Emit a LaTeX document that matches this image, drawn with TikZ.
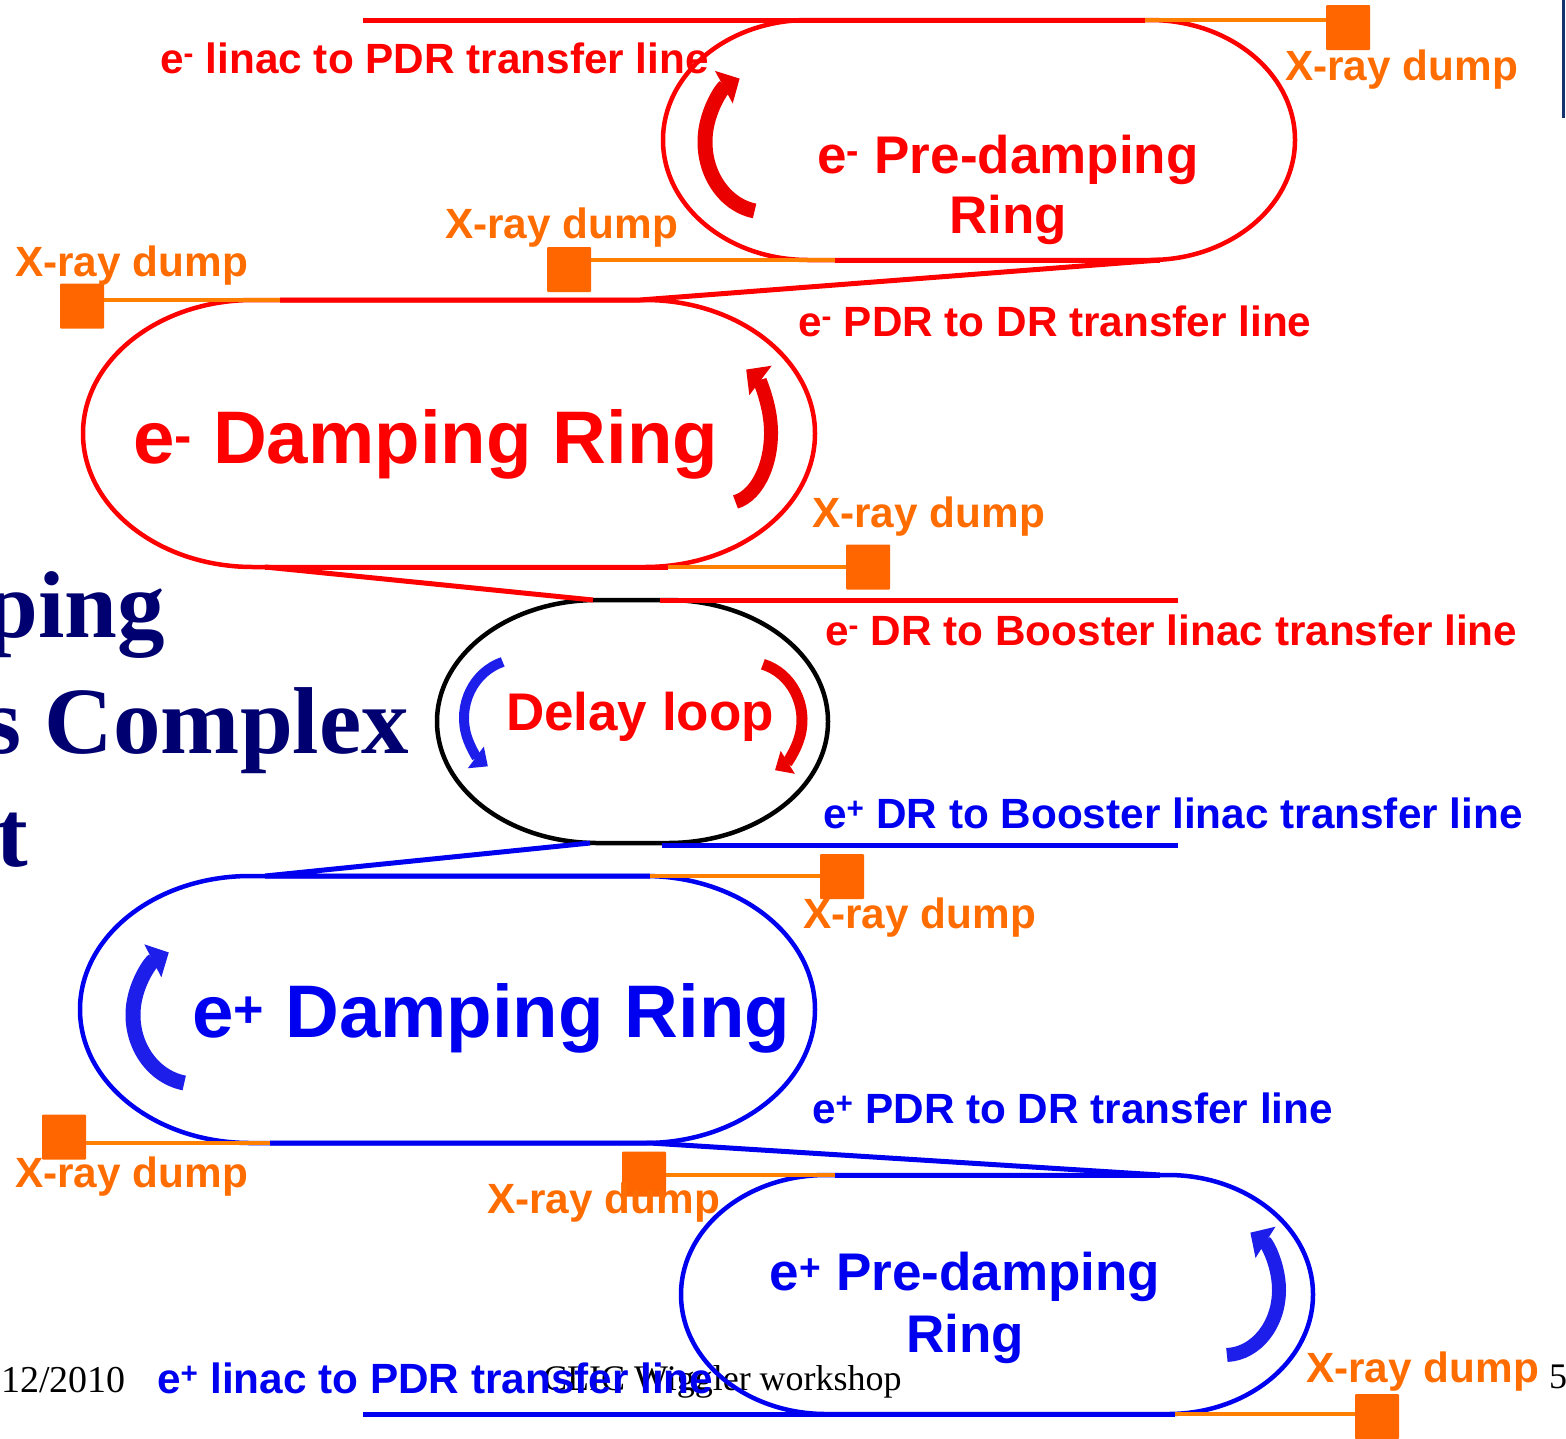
\documentclass[tikz,border=0pt]{standalone}
\usepackage{fontspec}
\setmainfont{Liberation Serif}
\newfontfamily\lblfont{Liberation Sans}
\usetikzlibrary{arrows.meta,calc}
\usetikzlibrary{positioning}
\definecolor{ered}{RGB}{255,0,0}
\definecolor{pblue}{RGB}{0,0,240}
\definecolor{dumpfill}{RGB}{255,102,0}
\definecolor{dumpwire}{RGB}{255,128,0}
\definecolor{xtext}{RGB}{255,108,0}
\definecolor{titlenavy}{RGB}{0,0,112}
\definecolor{barnavy}{RGB}{20,50,110}
\definecolor{arrowred}{RGB}{235,0,0}
\definecolor{arrowblue}{RGB}{30,30,235}
\tikzset{
ring/.style={line width=4.5pt},
dump/.style={rectangle, fill=dumpfill, minimum width=44pt, minimum height=45pt, inner sep=0pt, rounded corners=1pt},
xline/.style={draw=dumpwire, line width=4pt},
eline/.style={draw=ered, line width=5pt},
pline/.style={draw=pblue, line width=5pt},
lbl/.style={font=\lblfont\bfseries\fontsize{42.3}{48}\selectfont, inner sep=0pt, anchor=base west},
xlbl/.style={lbl, text=xtext},
ringname/.style={font=\lblfont\bfseries\fontsize{53}{60}\selectfont, inner sep=0pt, anchor=base},
bigname/.style={font=\lblfont\bfseries\fontsize{74.5}{84}\selectfont, inner sep=0pt, anchor=base west},
spin/.style={line width=15pt, -{Triangle[length=18pt,width=36pt]}},
smallspin/.style={line width=10pt, -{Triangle[length=15pt,width=26pt]}},
slide/.style={inner sep=0pt, anchor=base west}}
% ring with half-elliptic ends: style, cx, cy, half width, half height, end radius
\newcommand{\ringpath}[6]{\draw[ring, #1] (#2-#4+#6,#3-#5) -- (#2+#4-#6,#3-#5)
  arc[start angle=-90, end angle=90, x radius=#6, y radius=#5] -- (#2-#4+#6,#3+#5)
  arc[start angle=90, end angle=270, x radius=#6, y radius=#5] -- cycle;}
\newcommand{\curlarrow}[7]{\draw[#1] ([shift={(#6:#4 and #5)}]#2,#3) arc[start angle=#6, end angle=#7, x radius=#4, y radius=#5];}

\begin{document}
\begin{tikzpicture}[x=1pt,y=-1pt]
    \useasboundingbox (0,0) rectangle (1566,1438);
    \clip (0,0) rectangle (1566,1438);

    % Slide behind
    \node[slide, font=\bfseries\fontsize{95}{100}\selectfont, text=titlenavy] (t1) at (-15,637) {ping};
    \node[slide, font=\bfseries\fontsize{95}{100}\selectfont, text=titlenavy] (t2) at (-16,753) {s Complex};
    \node[slide, font=\bfseries\fontsize{95}{100}\selectfont, text=titlenavy] (t3) at (-4,866) {t};
    \node[slide, font=\fontsize{38}{40}\selectfont] (date) at (1,1392) {12/2010};
    \node[slide, font=\fontsize{36}{40}\selectfont] (foot) at (543,1390) {CLIC Wiggler workshop};
    \node[slide, font=\fontsize{36}{40}\selectfont] (page) at (1549,1388) {5};
    \draw[barnavy, line width=3pt] (1563,0) -- (1563,118);

    % Rings
    \coordinate (epdr) at (979,140);
    \coordinate (edr) at (449,433.5);
    \coordinate (delay) at (632.5,721.5);
    \coordinate (pdr) at (447.5,1009.5);
    \coordinate (ppdr) at (997,1294.5);
    \ringpath{draw=ered}{979}{140}{316}{120}{145}
    \ringpath{draw=ered}{449}{433.5}{366}{133.5}{170}
    \ringpath{draw=black}{632.5}{721.5}{195.5}{121.5}{160}
    \ringpath{draw=pblue}{447.5}{1009.5}{367.5}{133.5}{170}
    \ringpath{draw=pblue}{997}{1294.5}{316}{119.5}{145}

    % Dumps
    \node[dump] (dA) at (1348,27.5) {};
    \node[dump] (dB) at (569,269.5) {};
    \node[dump] (dC) at (82,306) {};
    \node[dump] (dD) at (868,567) {};
    \node[dump] (dE) at (842,876.5) {};
    \node[dump] (dF) at (64,1137) {};
    \node[dump] (dG) at (644,1174) {};
    \node[dump] (dH) at (1377,1416.5) {};

    % Line ends
    \coordinate (eIn) at (363,20);
    \coordinate (jA) at (1145,20);
    \coordinate (jB) at (835,260);
    \coordinate (eP1) at (1160,260);
    \coordinate (eD1) at (640,300);
    \coordinate (jC) at (280,300);
    \coordinate (eD2) at (265,567);
    \coordinate (jD) at (668,567);
    \coordinate (eL1) at (593,600);
    \coordinate (eL2) at (660,600);
    \coordinate (eOut) at (1178,600);
    \coordinate (pL1) at (590,843);
    \coordinate (pL2) at (662,845);
    \coordinate (pOut) at (1178,845);
    \coordinate (pD1) at (265,876);
    \coordinate (jE) at (650,876);
    \coordinate (jF) at (270,1143);
    \coordinate (pD2) at (650,1143);
    \coordinate (pP1) at (1160,1175);
    \coordinate (jG) at (835,1175);
    \coordinate (pIn) at (363,1414);
    \coordinate (jH) at (1175,1414);

    % Edges
    \draw[eline] (eIn) -- (jA);
    \draw[xline] (jA) -- (jA -| dA.west);
    \draw[xline] (dB.east |- jB) -- (jB);
    \draw[eline] (jB) -- (eP1);
    \draw[eline] (eP1) -- (eD1) -- (jC);
    \draw[xline] (jC) -- (jC -| dC.east);
    \draw[eline] (eD2) -- (jD);
    \draw[xline] (jD) -- (jD -| dD.west);
    \draw[eline] (eD2) -- (eL1);
    \draw[eline] (eL2) -- (eOut);
    \draw[pline] (pL2) -- (pOut);
    \draw[pline] (pL1) -- (pD1) -- (jE);
    \draw[xline] (jE) -- (jE -| dE.west);
    \draw[xline] (dF.east |- jF) -- (jF);
    \draw[pline] (jF) -- (pD2) -- (pP1);
    \draw[pline] (pP1) -- (jG);
    \draw[xline] (jG) -- (jG -| dG.east);
    \draw[pline] (pIn) -- (jH);
    \draw[xline] (jH) -- (jH -| dH.west);

    % Turning arrows
    \curlarrow{spin, arrowred}{765}{142}{60}{70}{100}{245}
    \curlarrow{spin, arrowred, line width=14pt}{728}{433}{43}{70}{80}{-65}
    \curlarrow{smallspin, arrowblue}{520}{718}{56}{59}{252}{125}
    \curlarrow{smallspin, arrowred, line width=11pt}{748}{720}{54}{58}{-74}{60}
    \curlarrow{spin, arrowblue}{195}{1015}{62}{69}{100}{245}
    \curlarrow{spin, arrowblue, line width=14pt}{1225}{1290}{54}{65}{88}{-62}

    % Ring names
    \node[ringname, text=ered] (epdrtxt) at (1008,173) {e\textsuperscript{-} Pre-damping};
    \node[ringname, text=ered] at ([yshift=-60pt]epdrtxt.base) {Ring};
    \node[bigname, text=ered] (edrtxt) at (133,463) {e\textsuperscript{-} Damping Ring};
    \node[ringname, text=ered] (delaytxt) at (640,730) {Delay loop};
    \node[bigname, text=pblue] (pdrtxt) at (192,1037) {e\textsuperscript{+} Damping Ring};
    \node[ringname, text=pblue] (ppdrtxt) at (965,1290) {e\textsuperscript{+} Pre-damping};
    \node[ringname, text=pblue] at ([yshift=-62pt]ppdrtxt.base) {Ring};

    % Line names
    \node[lbl, text=ered] at (160,73) {e\textsuperscript{-} linac to PDR transfer line};
    \node[lbl, text=ered] at (798,336) {e\textsuperscript{-} PDR to DR transfer line};
    \node[lbl, text=ered] at (825,645) {e\textsuperscript{-} DR to Booster linac transfer line};
    \node[lbl, text=pblue] at (823,828) {e\textsuperscript{+} DR to Booster linac transfer line};
    \node[lbl, text=pblue] at (812,1123) {e\textsuperscript{+} PDR to DR transfer line};
    \node[lbl, text=pblue] at (157,1393) {e\textsuperscript{+} linac to PDR transfer line};

    % Dump names
    \node[xlbl] at (1285,80) {X-ray dump};
    \node[xlbl] at (445,238) {X-ray dump};
    \node[xlbl] at (15,276) {X-ray dump};
    \node[xlbl] at (812,527) {X-ray dump};
    \node[xlbl] at (803,928) {X-ray dump};
    \node[xlbl] at (15,1187) {X-ray dump};
    \node[xlbl] at (487,1213) {X-ray dump};
    \node[xlbl] at (1306,1382) {X-ray dump};
\end{tikzpicture}
\end{document}
